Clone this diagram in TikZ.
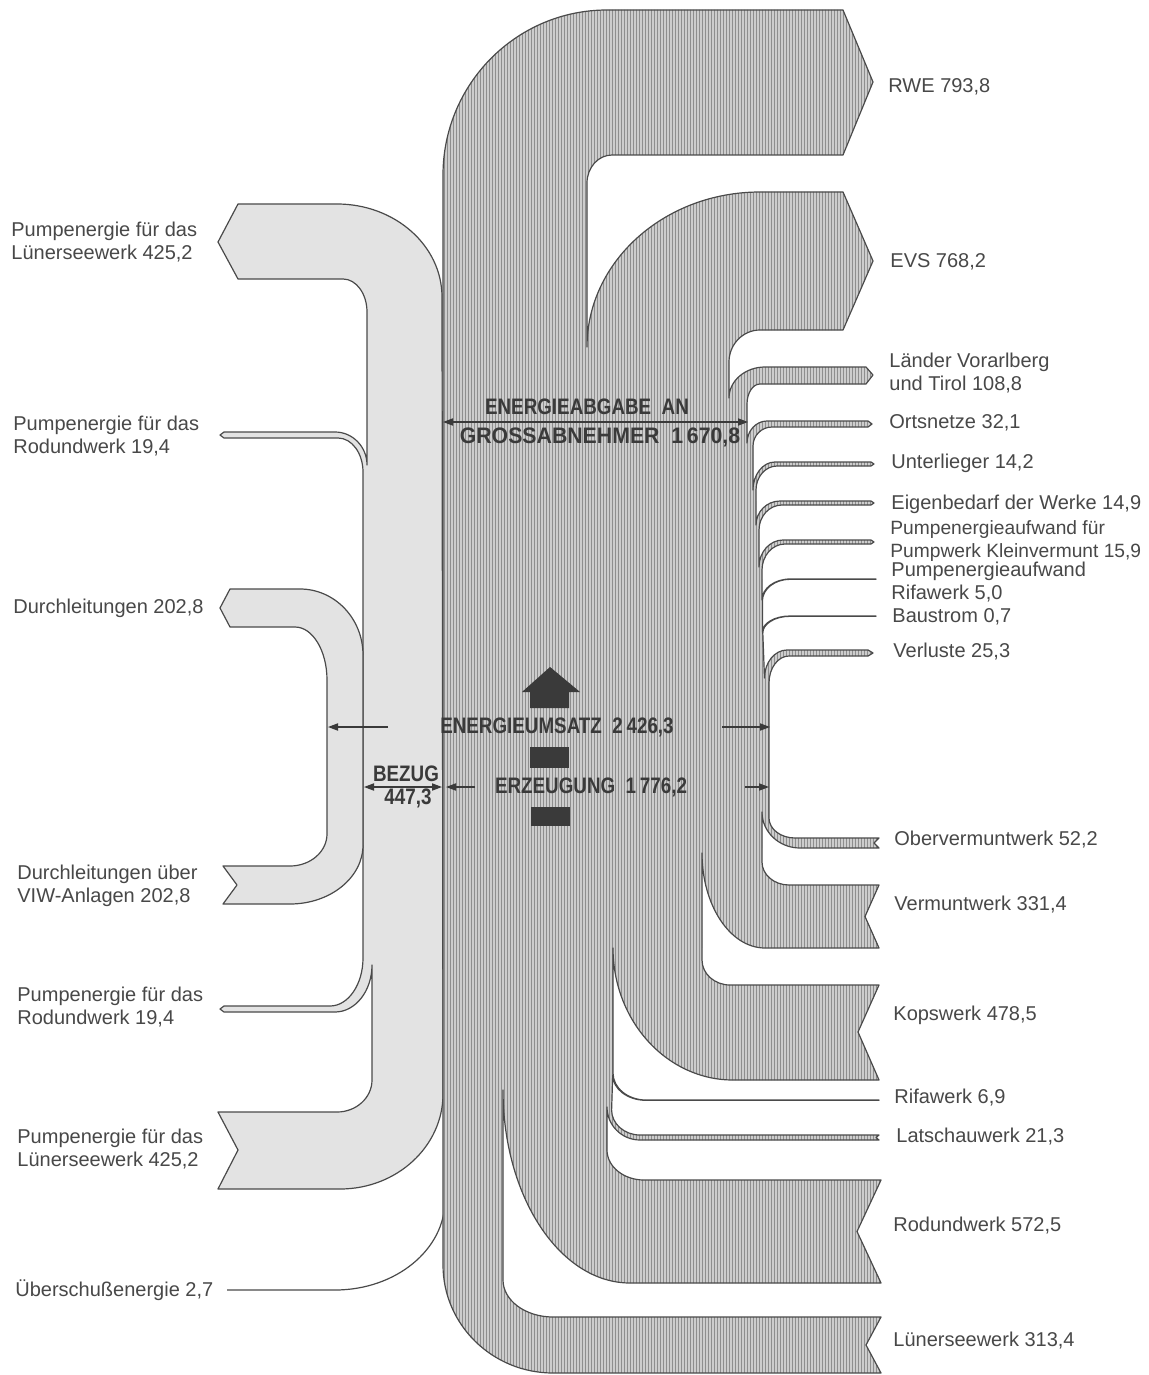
\documentclass[tikz,border=0pt]{standalone}
\usepackage{fontspec}
\setmainfont{Liberation Sans}
\newfontfamily\condfont{Liberation Sans}[FakeStretch=0.84]
\newfontfamily\condfontw{Liberation Sans}[FakeStretch=0.95]
\usetikzlibrary{arrows.meta,patterns.meta}
\definecolor{edge}{HTML}{4A4A4A}
\definecolor{hatchbg}{HTML}{CDCDCD}
\definecolor{hatchln}{HTML}{8E8E8E}
\definecolor{lightfill}{HTML}{E3E3E3}
\definecolor{txt}{HTML}{484848}
\definecolor{dark}{HTML}{3A3A3A}
% quarter curves: vertical-first / horizontal-first
\newcommand\cvh[4]{.. controls (#1,{#2+0.552*(#4-#2)}) and ({#3+0.552*(#1-#3)},#4) .. (#3,#4)}
\newcommand\chv[4]{.. controls ({#1+0.552*(#3-#1)},#2) and (#3,{#4+0.552*(#2-#4)}) .. (#3,#4)}
\begin{document}
\begin{tikzpicture}[x=0.5pt,y=-0.5pt,
  trunkband/.style={preaction={fill=hatchbg},pattern={Lines[angle=90,distance=1.5pt,line width=0.4pt]},pattern color=hatchln,draw=edge,line width=0.6pt,line join=round},
  lightband/.style={fill=lightfill,draw=edge,line width=0.6pt,line join=round},
  lbl/.style={font=\fontsize{10}{11.4}\selectfont,text=txt,inner sep=0pt,anchor=west,align=left},
  big/.style={font=\condfont\bfseries\fontsize{11.2}{12}\selectfont,text=dark,inner sep=0pt},
  bigw/.style={font=\condfontw\bfseries\fontsize{11.2}{12}\selectfont,text=dark,inner sep=0pt},
  arr/.style={draw=dark,line width=0.6pt,-{Triangle[length=5pt,width=3.6pt]}},
  darr/.style={draw=dark,line width=0.6pt,{Triangle[length=5pt,width=3.6pt]}-{Triangle[length=5pt,width=3.6pt]}}]
\useasboundingbox (0,0) rectangle (1149,1375);
\fill[white] (0,0) rectangle (1149,1375);

% ---------- light (Bezug) band ----------
\path[lightband] (442,297) -- (443,1094) \cvh{443}{1094}{340}{1189}
  -- (218,1189) -- (238,1150) -- (218,1112) -- (337,1112) \chv{337}{1112}{372}{1080}
  -- (372,965) \cvh{372}{965}{335}{1012}
  -- (224,1012) -- (220,1009) -- (224,1006) -- (330,1006) \chv{330}{1006}{363}{958}
  -- (363,472) \cvh{363}{472}{338}{438}
  -- (224,438) -- (220,435) -- (224,432) -- (335,432) \chv{335}{432}{367}{465}
  -- (367,312) \cvh{367}{312}{343}{279}
  -- (238,279) -- (218,242) -- (238,204) -- (337,204) \chv{337}{204}{442}{297} -- cycle;

% ---------- Durchleitungen loop ----------
\path[lightband] (230,589) -- (300,589) \chv{300}{589}{363}{655}
  -- (363,845) \cvh{363}{845}{290}{904}
  -- (223,904) -- (237,885) -- (223,866) -- (290,866) \chv{290}{866}{327}{834}
  -- (327,680) \cvh{327}{680}{295}{627}
  -- (230,627) -- (220,608) -- cycle;

% ---------- Ueberschussenergie ----------
\draw[edge,line width=0.6pt] (227,1290) -- (335,1290) \chv{335}{1290}{445}{1200};

% ---------- main trunk ----------
\path[trunkband] (443,175) \cvh{443}{175}{607}{10}
  -- (843,10) -- (873,82) -- (843,155)
  -- (612,155) \chv{612}{155}{587}{183}
  -- (587,347) \cvh{587}{347}{760}{192}
  -- (843,192) -- (873,261) -- (843,330)
  -- (760,330) \chv{760}{330}{729}{362}
  -- (729,398) \cvh{729}{398}{765}{367}
  -- (866,367) -- (873,375) -- (866,384)
  -- (760,384) \chv{760}{384}{747}{404}
  -- (747,443) \cvh{747}{443}{767}{421}
  -- (868,421) -- (872,424) -- (868,427)
  -- (772,427) \chv{772}{427}{753}{446}
  -- (753,490) \cvh{753}{490}{775}{462}
  -- (871,462) -- (874,464) -- (871,466)
  -- (777,466) \chv{777}{466}{756}{490}
  -- (756,525) \cvh{756}{525}{780}{501}
  -- (871,501) -- (874,503) -- (871,505)
  -- (782,505) \chv{782}{505}{759}{530}
  -- (759,567) \cvh{759}{567}{783}{540}
  -- (871,540) -- (874,542) -- (871,544)
  -- (785,544) \chv{785}{544}{762}{570}
  -- (762,600) \cvh{762}{600}{790}{579}
  -- (876,579) -- (876,579.3)
  -- (790,579.3) \chv{790}{579.3}{762.4}{601}
  -- (762.4,632) \cvh{762.4}{632}{790}{616}
  -- (876,616) -- (876,616.3)
  -- (790,616.3) \chv{790}{616.3}{762.8}{633}
  -- (764.5,678) \cvh{764.5}{678}{787}{650}
  -- (868,650) -- (873,653) -- (868,656)
  -- (789,656) \chv{789}{656}{769}{683}
  -- (769,818) \cvh{769}{818}{795}{838}
  -- (879,838) -- (874,843) -- (879,848)
  -- (800,848) \chv{800}{848}{762}{812}
  -- (762,862) \cvh{762}{862}{789}{885}
  -- (879,885) -- (865,916.5) -- (879,948)
  -- (765,948) \chv{765}{948}{702}{853}
  -- (702,960) \cvh{702}{960}{730}{985}
  -- (879,985) -- (858,1032) -- (879,1080)
  -- (733,1080) \chv{733}{1080}{613}{948}
  -- (613,1073) \cvh{613}{1073}{646}{1100}
  -- (879,1100) -- (879,1100.3)
  -- (646,1100.3) \chv{646}{1100.3}{612.7}{1075}
  -- (611.6,1110) \cvh{611.6}{1110}{640}{1135}
  -- (879,1135) -- (876,1137.5) -- (879,1140)
  -- (640,1140) \chv{640}{1140}{607}{1107}
  -- (607,1150) \cvh{607}{1150}{644}{1180}
  -- (881,1180) -- (857,1231.5) -- (881,1283)
  -- (630,1283) \chv{630}{1283}{503}{1090}
  -- (503,1280) \cvh{503}{1280}{553}{1317}
  -- (881,1317) -- (866,1345) -- (881,1373)
  -- (553,1373) \chv{553}{1373}{443}{1265}
  -- cycle;

% ---------- central symbols ----------
\fill[dark] (550,667) -- (580,692) -- (569,692) -- (569,708) -- (530,708) -- (530,692) -- (522,692) -- cycle;
\fill[dark] (530,747) rectangle (569,768);
\fill[dark] (531,807) rectangle (570,826);

% ---------- bold labels ----------
\node[big] (abgabe1) at (587,407) {ENERGIEABGABE\ \ AN};
\node[bigw] (abgabe2) at (600,437) {GROSSABNEHMER\ \ 1\,670,8};
\coordinate (gaL) at (443,422);
\coordinate (gaR) at (748,422);
\draw[darr] (gaL) -- (gaR);

\node[big] (umsatz) at (557,727) {ENERGIEUMSATZ\ \ 2\,426,3};
\coordinate (umL0) at (388,727); \coordinate (umL1) at (328,727);
\coordinate (umR0) at (722,727); \coordinate (umR1) at (770,727);
\draw[arr] (umL0) -- (umL1);
\draw[arr] (umR0) -- (umR1);

\node[big] (erz) at (591,787) {ERZEUGUNG\ \ 1\,776,2};
\coordinate (erL0) at (475,787); \coordinate (erL1) at (446,787);
\coordinate (erR0) at (745,787); \coordinate (erR1) at (769,787);
\draw[arr] (erL0) -- (erL1);
\draw[arr] (erR0) -- (erR1);

\node[big] (bezug) at (406,774) {BEZUG};
\node[big] (bezugv) at (408,798) {447,3};
\coordinate (bzL) at (364,787); \coordinate (bzR) at (442,787);
\draw[darr] (bzL) -- (bzR);

% ---------- right labels ----------
\node[lbl] (rwe) at (888,87) {RWE 793,8};
\node[lbl] (evs) at (890,262) {EVS 768,2};
\node[lbl] (laender) at (889,373) {Länder Vorarlberg\\und Tirol 108,8};
\node[lbl] (orts) at (889,423) {Ortsnetze 32,1};
\node[lbl] (unter) at (891,463) {Unterlieger 14,2};
\node[lbl] (eigen) at (891,504) {Eigenbedarf der Werke 14,9};
\node[lbl,font=\fontsize{9.6}{11.4}\selectfont] (pkv) at (890,541) {Pumpenergieaufwand für\\Pumpwerk Kleinvermunt 15,9};
\node[lbl] (prifa) at (891,582) {Pumpenergieaufwand\\Rifawerk 5,0};
\node[lbl] (bau) at (892,617) {Baustrom 0,7};
\node[lbl] (verl) at (893,652) {Verluste 25,3};
\node[lbl] (ober) at (894,840) {Obervermuntwerk 52,2};
\node[lbl] (verm) at (894,905) {Vermuntwerk 331,4};
\node[lbl] (kops) at (893,1015) {Kopswerk 478,5};
\node[lbl] (rifa) at (894,1098) {Rifawerk 6,9};
\node[lbl] (latsch) at (896,1137) {Latschauwerk 21,3};
\node[lbl] (rod) at (893,1226) {Rodundwerk 572,5};
\node[lbl] (luen) at (893,1341) {Lünerseewerk 313,4};

% ---------- left labels ----------
\node[lbl] (pl1) at (11,242) {Pumpenergie für das\\Lünerseewerk 425,2};
\node[lbl] (pr1) at (13,436) {Pumpenergie für das\\Rodundwerk 19,4};
\node[lbl] (dl1) at (13,608) {Durchleitungen 202,8};
\node[lbl] (dl2) at (17,886) {Durchleitungen über\\VIW-Anlagen 202,8};
\node[lbl] (pr2) at (17,1007) {Pumpenergie für das\\Rodundwerk 19,4};
\node[lbl] (pl2) at (17,1149) {Pumpenergie für das\\Lünerseewerk 425,2};
\node[lbl] (ueb) at (15,1290) {Überschußenergie 2,7};
\end{tikzpicture}
\end{document}
